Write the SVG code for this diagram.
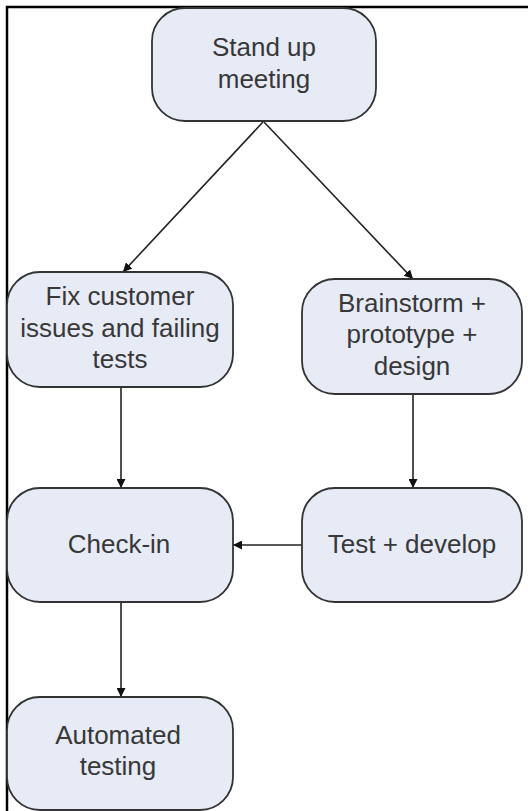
<svg xmlns="http://www.w3.org/2000/svg" width="528" height="811" viewBox="0 0 528 811">
  <defs>
    <marker id="arrow" markerUnits="userSpaceOnUse" markerWidth="9" markerHeight="9" viewBox="0 0 9 9" refX="9" refY="4.5" orient="auto">
      <path d="M0,0 L9,4.5 L0,9 Z" fill="#111"/>
    </marker>
  </defs>
  <style>
    .node rect { fill: #e6ebf5; stroke: #333; stroke-width: 1.8; }
    .node text { font-family: "Liberation Sans", Arial, sans-serif; font-size: 26px; fill: #383838; text-anchor: middle; }
    .conn line { stroke: #222; stroke-width: 1.6; fill: none; marker-end: url(#arrow); }
    .frame { fill: none; stroke: #000; stroke-width: 2.5; }
  </style>
  <rect width="528" height="811" fill="#ffffff"/>
  <rect class="frame" x="7" y="7" width="540" height="830"/>

  <g id="connectors" class="conn">
    <line x1="263" y1="122" x2="123" y2="272"/>
    <line x1="264" y1="122" x2="413" y2="279"/>
    <line x1="121" y1="387" x2="121" y2="488"/>
    <line x1="413" y1="394" x2="413" y2="488"/>
    <line x1="302" y1="545" x2="233" y2="545"/>
    <line x1="121" y1="602" x2="121" y2="697"/>
  </g>

  <g id="stand-up" class="node">
    <rect x="152" y="8" width="224" height="113" rx="33" ry="33"/>
    <text x="264" y="56">Stand up</text>
    <text x="264" y="88">meeting</text>
  </g>

  <g id="fix-customer" class="node">
    <rect x="7" y="272" width="226" height="115" rx="33" ry="33"/>
    <text x="120" y="305">Fix customer</text>
    <text x="120" y="337">issues and failing</text>
    <text x="120" y="368">tests</text>
  </g>

  <g id="brainstorm" class="node">
    <rect x="302" y="279" width="220" height="115" rx="33" ry="33"/>
    <text x="412" y="312">Brainstorm +</text>
    <text x="412" y="343">prototype +</text>
    <text x="412" y="375">design</text>
  </g>

  <g id="check-in" class="node">
    <rect x="7" y="488" width="226" height="114" rx="33" ry="33"/>
    <text x="119" y="553">Check-in</text>
  </g>

  <g id="test-develop" class="node">
    <rect x="302" y="488" width="220" height="114" rx="33" ry="33"/>
    <text x="412" y="553">Test + develop</text>
  </g>

  <g id="automated-testing" class="node">
    <rect x="7" y="697" width="226" height="113" rx="33" ry="33"/>
    <text x="118" y="744">Automated</text>
    <text x="118" y="775">testing</text>
  </g>
</svg>
